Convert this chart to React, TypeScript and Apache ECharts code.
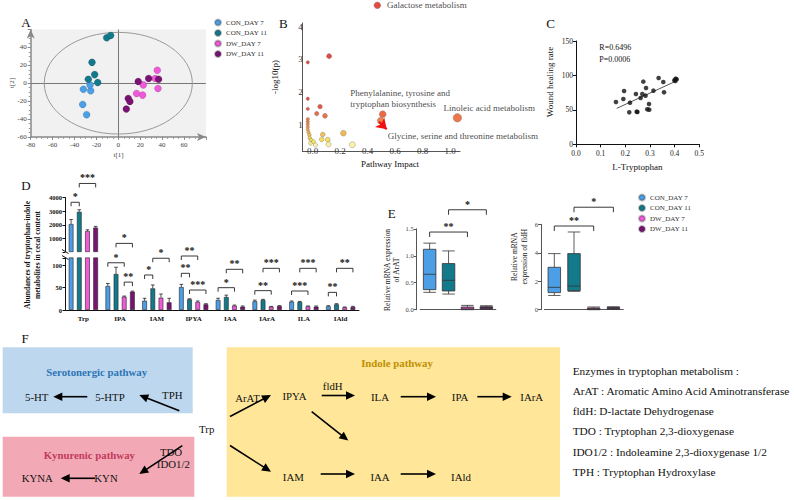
import React, { useEffect, useRef } from "react";
import * as echarts from "echarts";

const SERIF = "Liberation Serif";

// Experimental groups shared by panels A, D and E
const GROUPS = ["CON_DAY 7", "CON_DAY 11", "DW_DAY 7", "DW_DAY 11"];
const GROUP_COLORS = ["#4c9fe6", "#137a8c", "#ef5ad8", "#7a1373"];

// A: PCA scores [t1, t2]
const PCA_CON_DAY7 = [[-31.9, -6.7], [-25.2, -8.5], [-25.8, -1.9], [-32.5, -23.7], [-28.9, -35.2]];
const PCA_CON_DAY11 = [[-10.6, 50.7], [-7, 53.3], [-24, 23.3], [-21.6, 9.6], [-27.4, 4.4], [-18.8, 0.7]];
const PCA_DW_DAY7 = [[35.6, 14.4], [33.7, 5.2], [22.8, -1.9], [16.7, -11.5], [22.2, -13.3], [36.2, -5.9]];
const PCA_DW_DAY11 = [[18.2, 1.9], [27.7, 5.2], [36.8, 4.4], [9.1, -17], [10.6, -20.4], [7.3, -28.9]];
// Hotelling ellipse: centre t1, centre t2, radius t1, radius t2
const PCA_ELLIPSE = [0, 0, 67.6, 56.8];

// B: pathway impact vs -log10(p)
const PATHWAYS: [number, number][] = [
  [0.47, 4.65],
  [0.119, 3.1],
  [-0.036, 2.91],
  [-0.036, 1.8],
  [-0.036, 1.49],
  [0.053, 1.56],
  [0.029, 1.35],
  [0.089, 1.28],
  [0.509, 1.33],
  [0.494, 1.13],
  [1.052, 1.22],
  [0.223, 0.75],
  [0.073, 0.71],
  [0.065, 0.56],
  [0.109, 0.55],
  [0.115, 0.41],
  [0.288, 0.4],
  [-0.036, 1.18],
  [-0.036, 1.1],
  [-0.036, 1.02],
  [-0.036, 0.94],
  [-0.036, 0.86],
  [-0.031, 0.78],
  [-0.024, 0.7],
  [-0.022, 0.61],
  [-0.012, 0.54],
  [0.005, 0.49],
  [-0.017, 0.44],
  [0.02, 0.39],
];
const PATHWAY_LABELS: [number, string][] = [
  [0, "Galactose metabolism"],
  [8, "Phenylalanine, tyrosine and\ntryptophan biosynthesis"],
  [9, "Glycine, serine and threonine metabolism"],
  [10, "Linoleic acid metabolism"],
];
const HIGHLIGHT_ARROW = [[0.482, 1.1], [0.538, 0.87]];
const IMPACT_TICKS = [0, 0.2, 0.4, 0.6, 0.8, 1.0];
const LOGP_TICKS = [1, 2, 3, 4];

// C: L-Tryptophan vs wound healing rate
const TRP_LEVEL = [0.162, 0.192, 0.195, 0.219, 0.216, 0.243, 0.246, 0.249, 0.262, 0.269, 0.273, 0.282, 0.284, 0.289, 0.296, 0.297, 0.314, 0.335, 0.354, 0.357, 0.399, 0.404, 0.408, 0.403];
const HEALING_RATE = [61.4, 65.8, 77.4, 60.5, 46.4, 73.1, 47.4, 46.9, 67.2, 73.1, 91.0, 70.6, 81.8, 50.8, 58.5, 50.3, 77.9, 96.3, 90.5, 75.5, 92.9, 95.3, 94.3, 91.9];
const TREND = [[0.165, 52.2], [0.401, 91.0]];
const CORR_TEXT = ["R=0.6496", "P=0.0006"];

// D: tryptophan-indole metabolites (mean and top of error bar)
const METABOLITES = ["Trp", "IPA", "IAM", "IPYA", "IAA", "IArA", "ILA", "IAld"];
const MEAN_CON_DAY7 = [2050, 53.3, 20.7, 51, 22.2, 19.3, 18.5, 8.1];
const MEAN_CON_DAY11 = [2950, 80, 48, 23.7, 28.9, 22.2, 17.8, 12.6];
const MEAN_DW_DAY7 = [1540, 29.6, 27.4, 17.8, 9.6, 7.4, 8.1, 5.9];
const MEAN_DW_DAY11 = [1790, 40.7, 17, 12.6, 7.4, 8.9, 7.4, 6.7];
const ERR_CON_DAY7 = [2380, 59, 26, 57, 26, 22, 20, 9.6];
const ERR_CON_DAY11 = [3100, 95, 55.6, 25, 33, 23.7, 19, 14];
const ERR_DW_DAY7 = [1630, 31, 35.5, 20, 11, 8, 8.9, 6.7];
const ERR_DW_DAY11 = [1880, 42, 26, 14, 8.9, 9.6, 8.9, 8.1];
// significance brackets: [metabolite, from group, to group, height, stars]
const SIG_TRP: [number, number, number, number, string][] = [
  [0, 0, 1, 3650, "*"],
  [0, 1, 3, 5030, "***"],
];
const SIG_LOW: [number, number, number, number, string][] = [
  [1, 0, 2, 105, "*"], [1, 1, 3, 148, "*"], [1, 2, 3, 62, "**"],
  [2, 0, 1, 77.8, "*"], [2, 1, 3, 115, "*"],
  [3, 0, 2, 120, "**"], [3, 0, 1, 81.5, "**"], [3, 1, 3, 44.4, "***"],
  [4, 0, 2, 49.6, "*"], [4, 1, 3, 90.4, "**"],
  [5, 0, 2, 43, "**"], [5, 1, 3, 92.6, "***"],
  [6, 0, 2, 42.2, "***"], [6, 1, 3, 92.6, "***"],
  [7, 0, 1, 39.2, "**"], [7, 1, 3, 92.6, "**"],
];

// E: relative mRNA expression, box = [min, Q1, median, Q3, max]
const ARAT_BOX = [
  [0.322, 0.372, 0.657, 1.12, 1.234],
  [0.29, 0.347, 0.545, 0.855, 1.09],
  [0.0, 0.006, 0.03, 0.05, 0.08],
  [0.006, 0.019, 0.037, 0.056, 0.074],
];
const FLDH_BOX = [
  [1.0, 1.2, 1.57, 2.98, 3.94],
  [1.29, 1.34, 1.66, 3.94, 5.46],
  [0.0, 0.02, 0.07, 0.12, 0.19],
  [0.02, 0.07, 0.12, 0.16, 0.21],
];
const SIG_ARAT: [number, number, number, string][] = [[0, 2, 1.44, "**"], [1, 3, 1.853, "*"]];
const SIG_FLDH: [number, number, number, string][] = [[0, 2, 5.88, "**"], [1, 3, 7.2, "*"]];

// F: enzyme glossary
const ENZYMES = [
  "Enzymes in tryptophan metabolism :",
  "ArAT : Aromatic Amino Acid Aminotransferase",
  "fldH: D-lactate Dehydrogenase",
  "TDO : Tryptophan 2,3-dioxygenase",
  "IDO1/2 : Indoleamine 2,3-dioxygenase 1/2",
  "TPH : Tryptophan Hydroxylase",
];

const BAR_W = 4.7;
const BAR_STEP = 8.2;

function txt(text: string, x: number, y: number, size: number, o: any = {}) {
  const align = o.align || "center";
  const va = o.va || "middle";
  return {
    type: "text",
    x,
    y,
    rotation: o.rotation || 0,
    silent: true,
    z: 10,
    style: {
      text,
      fill: o.color || "#111",
      fontFamily: SERIF,
      fontSize: size,
      fontWeight: o.weight || "normal",
      align,
      verticalAlign: va,
      lineHeight: o.lh,
    },
  };
}

function arrow(x1: number, y1: number, x2: number, y2: number) {
  const dx = x2 - x1;
  const dy = y2 - y1;
  const len = Math.hypot(dx, dy);
  const ux = dx / len;
  const uy = dy / len;
  const L = 9;
  const W = 4.2;
  const bx = x2 - ux * L;
  const by = y2 - uy * L;
  return [
    { type: "line", silent: true, z: 10, shape: { x1, y1, x2: bx + ux, y2: by + uy }, style: { stroke: "#000", lineWidth: 1.6 } },
    {
      type: "polygon",
      silent: true,
      z: 10,
      shape: { points: [[x2, y2], [bx - uy * W, by + ux * W], [bx + uy * W, by - ux * W]] },
      style: { fill: "#000" },
    },
  ];
}

function bracketPath(x1: number, x2: number, y: number, label: string, tick = 4, size = 10) {
  return {
    type: "group",
    children: [
      {
        type: "polyline",
        shape: { points: [[x1, y + tick], [x1, y], [x2, y], [x2, y + tick]] },
        style: { stroke: "#222", fill: "none", lineWidth: 0.9 },
      },
      {
        type: "text",
        x: (x1 + x2) / 2,
        y: y - 0.5,
        style: {
          text: label,
          fill: "#111",
          fontFamily: SERIF,
          fontSize: size,
          fontWeight: "bold",
          align: "center",
          verticalAlign: "bottom",
        },
      },
    ],
  };
}

function buildOption(): any {
  const pca = [PCA_CON_DAY7, PCA_CON_DAY11, PCA_DW_DAY7, PCA_DW_DAY11];
  const means = [MEAN_CON_DAY7, MEAN_CON_DAY11, MEAN_DW_DAY7, MEAN_DW_DAY11];
  const errs = [ERR_CON_DAY7, ERR_CON_DAY11, ERR_DW_DAY7, ERR_DW_DAY11];
  const series: any[] = [];

  // ---- A: PCA score plot
  GROUPS.forEach((g, i) => {
    series.push({
      type: "scatter",
      name: g,
      xAxisIndex: 0,
      yAxisIndex: 0,
      data: pca[i],
      symbolSize: 7,
      z: 4,
      itemStyle: { color: GROUP_COLORS[i], borderColor: "rgba(0,0,0,0.25)", borderWidth: 0.5, opacity: 1 },
      ...(i === 0
        ? {
            markLine: {
              silent: true,
              symbol: "none",
              z: 1,
              label: { show: false },
              lineStyle: { color: "#777", width: 1, type: "solid" },
              data: [{ xAxis: 0 }, { yAxis: 0 }],
            },
          }
        : {}),
    });
  });
  series.push({
    type: "custom",
    xAxisIndex: 0,
    yAxisIndex: 0,
    silent: true,
    z: 2,
    data: [PCA_ELLIPSE],
    renderItem: (_p: any, api: any) => {
      const c = api.coord([api.value(0), api.value(1)]);
      const s = api.size([api.value(2), api.value(3)]);
      return {
        type: "ellipse",
        shape: { cx: c[0], cy: c[1], rx: s[0], ry: s[1] },
        style: { fill: "none", stroke: "#9a9a9a", lineWidth: 1 },
      };
    },
  });

  // ---- B: pathway bubble plot
  const labelPlacement: Record<number, any> = {
    0: { position: "right", distance: 6 },
    8: { position: [-28.7, -23], lineHeight: 11 },
    9: { position: [10.8, 14.5] },
    10: { position: [-9.5, -10] },
  };
  const bIndex = series.length;
  series.push({
    type: "scatter",
    name: "Pathways",
    xAxisIndex: 1,
    yAxisIndex: 1,
    clip: false,
    z: 4,
    data: PATHWAYS.map((p, i) => {
      const lab = PATHWAY_LABELS.find((l) => l[0] === i);
      if (!lab) return { value: p };
      return {
        value: p,
        label: {
          show: true,
          formatter: lab[1],
          color: "#111",
          fontFamily: SERIF,
          fontSize: 9,
          ...labelPlacement[i],
        },
      };
    }),
    symbolSize: (v: number[]) => 3 + 5.2 * Math.sqrt(Math.max(0, v[0] + 0.04)),
    itemStyle: { borderColor: "#777", borderWidth: 0.5 },
    markLine: {
      silent: true,
      symbol: ["none", "arrow"],
      symbolSize: 10,
      label: { show: false },
      lineStyle: { color: "#f01010", width: 2.2, type: "solid" },
      itemStyle: { color: "#f01010" },
      data: [[{ coord: HIGHLIGHT_ARROW[0] }, { coord: HIGHLIGHT_ARROW[1] }]],
    },
  });

  // ---- C: correlation scatter
  series.push({
    type: "scatter",
    xAxisIndex: 2,
    yAxisIndex: 2,
    data: TRP_LEVEL.map((x, i) => [x, HEALING_RATE[i]]),
    symbolSize: 4.6,
    itemStyle: { color: "#111" },
    z: 4,
  });
  series.push({
    type: "line",
    xAxisIndex: 2,
    yAxisIndex: 2,
    data: TREND,
    symbol: "none",
    itemStyle: { color: "#555" },
    lineStyle: { color: "#555", width: 1 },
    z: 3,
  });

  // ---- D: bars, lower (broken) segment and upper segment
  GROUPS.forEach((g, i) => {
    series.push({
      type: "bar",
      name: g,
      xAxisIndex: 3,
      yAxisIndex: 3,
      data: means[i],
      barWidth: BAR_W,
      barGap: "74%",
      clip: true,
      itemStyle: { color: GROUP_COLORS[i], borderColor: "#222", borderWidth: 0.6 },
    });
  });
  GROUPS.forEach((g, i) => {
    series.push({
      type: "bar",
      name: g,
      xAxisIndex: 4,
      yAxisIndex: 4,
      data: means[i].map((v, c) => (c === 0 ? v : "-")),
      barWidth: BAR_W,
      barGap: "74%",
      clip: true,
      itemStyle: { color: GROUP_COLORS[i], borderColor: "#222", borderWidth: 0.6 },
    });
  });
  const errLow: number[][] = [];
  const errHigh: number[][] = [];
  GROUPS.forEach((_g, s) => {
    METABOLITES.forEach((_m, c) => {
      const row = [c, s, means[s][c], errs[s][c]];
      if (c === 0) errHigh.push(row);
      else errLow.push(row);
    });
  });
  const errRender = (_p: any, api: any) => {
    const cat = api.value(0);
    const s = api.value(1);
    const base = api.coord([cat, api.value(2)]);
    const top = api.coord([cat, api.value(3)]);
    const x = base[0] + (s - 1.5) * BAR_STEP;
    return {
      type: "group",
      children: [
        { type: "line", shape: { x1: x, y1: base[1], x2: x, y2: top[1] }, style: { stroke: "#222", lineWidth: 0.8 } },
        { type: "line", shape: { x1: x - 1.8, y1: top[1], x2: x + 1.8, y2: top[1] }, style: { stroke: "#222", lineWidth: 0.8 } },
      ],
    };
  };
  series.push({ type: "custom", xAxisIndex: 3, yAxisIndex: 3, data: errLow, renderItem: errRender, silent: true, z: 5 });
  series.push({ type: "custom", xAxisIndex: 4, yAxisIndex: 4, data: errHigh, renderItem: errRender, silent: true, z: 5 });
  const sigRender = (list: [number, number, number, number, string][]) => (p: any, api: any) => {
    const item = list[p.dataIndex];
    const pt = api.coord([api.value(0), api.value(3)]);
    const x1 = pt[0] + (api.value(1) - 1.5) * BAR_STEP;
    const x2 = pt[0] + (api.value(2) - 1.5) * BAR_STEP;
    return bracketPath(x1, x2, pt[1], item[4], 4, 10);
  };
  series.push({
    type: "custom", xAxisIndex: 3, yAxisIndex: 3, silent: true, z: 6,
    data: SIG_LOW.map((r) => r.slice(0, 4)), renderItem: sigRender(SIG_LOW),
  });
  series.push({
    type: "custom", xAxisIndex: 4, yAxisIndex: 4, silent: true, z: 6,
    data: SIG_TRP.map((r) => r.slice(0, 4)), renderItem: sigRender(SIG_TRP),
  });

  // ---- E: box plots
  const boxItems = (rows: number[][]) =>
    rows.map((r, i) => ({ value: r, itemStyle: { color: GROUP_COLORS[i], borderColor: "#333", borderWidth: 0.8 } }));
  series.push({ type: "boxplot", xAxisIndex: 5, yAxisIndex: 5, boxWidth: [12.5, 12.5], data: boxItems(ARAT_BOX) });
  series.push({ type: "boxplot", xAxisIndex: 6, yAxisIndex: 6, boxWidth: [12.5, 12.5], data: boxItems(FLDH_BOX) });
  const boxSig = (list: [number, number, number, string][]) => (p: any, api: any) => {
    const a = api.coord([api.value(0), api.value(2)]);
    const b = api.coord([api.value(1), api.value(2)]);
    return bracketPath(a[0], b[0], a[1], list[p.dataIndex][3], 5, 10);
  };
  series.push({
    type: "custom", xAxisIndex: 5, yAxisIndex: 5, silent: true, z: 6,
    data: SIG_ARAT.map((r) => r.slice(0, 3)), renderItem: boxSig(SIG_ARAT),
  });
  series.push({
    type: "custom", xAxisIndex: 6, yAxisIndex: 6, silent: true, z: 6,
    data: SIG_FLDH.map((r) => r.slice(0, 3)), renderItem: boxSig(SIG_FLDH),
  });

  const isMultiple = (v: number, step: number) => Math.abs(v / step - Math.round(v / step)) < 1e-6;
  const axisText = (size: number, color = "#333", weight = "normal") => ({
    fontFamily: SERIF,
    fontSize: size,
    color,
    fontWeight: weight,
  });

  const grid = [
    { left: 30.7, top: 29.5, width: 175.2, height: 107.4, show: true, backgroundColor: "#f1f1f1", borderWidth: 0 },
    { left: 302.7, top: 23, width: 157.3, height: 128.7 },
    { left: 576, top: 41, width: 123.3, height: 103.3 },
    { left: 65, top: 257.8, width: 294, height: 52.2 },
    { left: 65, top: 197.5, width: 294, height: 54.5 },
    { left: 420.2, top: 228.8, width: 75.6, height: 80.9 },
    { left: 544.45, top: 224.3, width: 78.8, height: 85.4 },
  ];

  const xAxis = [
    {
      type: "value", gridIndex: 0, min: -80, max: 80, interval: 20,
      axisLine: { lineStyle: { color: "#888", width: 1.5 }, symbol: ["none", "arrow"], symbolSize: [6, 9], onZero: false },
      axisTick: { length: 3, lineStyle: { color: "#888" } },
      minorTick: { show: true, splitNumber: 4, length: 2, lineStyle: { color: "#999" } },
      splitLine: { show: false },
      axisLabel: { ...axisText(7, "#444"), margin: 5, formatter: (v: number) => (v >= 80 ? "" : String(v)) },
    },
    {
      type: "value", gridIndex: 1, min: -0.073, max: 1.071,
      axisLine: { lineStyle: { color: "#555", width: 1 }, onZero: false },
      axisTick: { show: false },
      splitLine: { show: false },
      axisLabel: {
        ...axisText(9, "#333"), margin: -5, customValues: IMPACT_TICKS,
        formatter: (v: number) => v.toFixed(1),
      },
    },
    {
      type: "value", gridIndex: 2, min: 0, max: 0.5, interval: 0.1,
      axisLine: { lineStyle: { color: "#111", width: 1 }, onZero: false },
      axisTick: { length: 3, lineStyle: { color: "#111" } },
      splitLine: { show: false },
      axisLabel: {
        ...axisText(7.5, "#222"), margin: 5,
        formatter: (v: number) => `{t|${v.toFixed(1)}}`,
        rich: { t: { color: "#222", fontFamily: SERIF, fontSize: 7.5 } },
      },
    },
    {
      type: "category", gridIndex: 3, data: METABOLITES,
      axisLine: { lineStyle: { color: "#111", width: 1 } },
      axisTick: { alignWithLabel: true, length: 2.5, lineStyle: { color: "#111" } },
      axisLabel: { ...axisText(7, "#111", "bold"), margin: 5, interval: 0 },
    },
    { type: "category", gridIndex: 4, data: METABOLITES, show: false },
    {
      type: "category", gridIndex: 5, data: GROUPS,
      axisLine: { lineStyle: { color: "#555", width: 1 } },
      axisTick: { alignWithLabel: true, length: 3, lineStyle: { color: "#555" } },
      axisLabel: { show: false },
    },
    {
      type: "category", gridIndex: 6, data: GROUPS,
      axisLine: { lineStyle: { color: "#555", width: 1 } },
      axisTick: { alignWithLabel: true, length: 3, lineStyle: { color: "#555" } },
      axisLabel: { show: false },
    },
  ];

  const yAxis = [
    {
      type: "value", gridIndex: 0, min: -60, max: 60, interval: 20,
      axisLine: { show: true, lineStyle: { color: "#888", width: 1.5 }, symbol: ["none", "arrow"], symbolSize: [6, 9], onZero: false },
      axisTick: { show: true, length: 3, lineStyle: { color: "#888" } },
      minorTick: { show: true, splitNumber: 4, length: 2, lineStyle: { color: "#999" } },
      splitLine: { show: false },
      axisLabel: { ...axisText(7, "#444"), margin: 4, formatter: (v: number) => (v >= 60 ? "" : String(v)) },
    },
    {
      type: "value", gridIndex: 1, min: 0.186, max: 4.11,
      axisLine: { show: true, lineStyle: { color: "#555", width: 1 }, onZero: false },
      axisTick: { show: false },
      splitLine: { show: false },
      axisLabel: {
        ...axisText(9, "#333"), margin: 0, customValues: LOGP_TICKS,
        formatter: (v: number) => String(Math.round(v)),
      },
    },
    {
      type: "value", gridIndex: 2, min: 0, max: 150, interval: 50,
      axisLine: { show: true, lineStyle: { color: "#111", width: 1 }, onZero: false },
      axisTick: { show: true, length: 3, lineStyle: { color: "#111" } },
      splitLine: { show: false },
      axisLabel: { ...axisText(7.5, "#222"), margin: 3 },
    },
    {
      type: "value", gridIndex: 3, min: 0, max: 116, interval: 50,
      axisLine: { show: true, lineStyle: { color: "#111", width: 1 } },
      axisTick: { show: true, length: 2.5, lineStyle: { color: "#111" } },
      splitLine: { show: false },
      axisLabel: {
        ...axisText(6.5, "#111", "bold"), margin: 3,
        formatter: (v: number) => (isMultiple(v, 50) ? String(v) : ""),
      },
    },
    {
      type: "value", gridIndex: 4, min: 0, max: 4000, interval: 1000,
      axisLine: { show: true, lineStyle: { color: "#111", width: 1 } },
      axisTick: { show: true, length: 2.5, lineStyle: { color: "#111" } },
      splitLine: { show: false },
      axisLabel: { ...axisText(6.5, "#111", "bold"), margin: 3, formatter: (v: number) => (v === 0 ? "" : String(v)) },
    },
    {
      type: "value", gridIndex: 5, min: 0, max: 1.5, interval: 0.5, offset: 3.5,
      axisLine: { show: true, lineStyle: { color: "#555", width: 1 } },
      axisTick: { show: true, length: 3, lineStyle: { color: "#555" } },
      splitLine: { show: false },
      axisLabel: { ...axisText(6.5, "#444"), margin: 3, formatter: (v: number) => v.toFixed(1) },
    },
    {
      type: "value", gridIndex: 6, min: 0, max: 6, interval: 2, offset: 3.45,
      axisLine: { show: true, lineStyle: { color: "#555", width: 1 } },
      axisTick: { show: true, length: 3, lineStyle: { color: "#555" } },
      splitLine: { show: false },
      axisLabel: { ...axisText(6.5, "#444"), margin: 3 },
    },
  ];

  const legendBase = {
    data: GROUPS,
    orient: "vertical",
    icon: "circle",
    itemWidth: 6,
    itemHeight: 6,
    itemGap: 2.5,
    padding: 0,
    selectedMode: false,
    textStyle: { fontFamily: SERIF, fontSize: 7, color: "#333" },
  };

  const graphic: any[] = [
    // panel letters
    txt("A", 26, 22.7, 13),
    txt("B", 283.3, 23.3, 13),
    txt("C", 550.7, 23.3, 13),
    txt("D", 26, 185, 13),
    txt("E", 391.7, 213.3, 13),
    txt("F", 25, 338.3, 13),
    // A axis titles
    txt("t[1]", 118.5, 155, 7, { color: "#444" }),
    txt("t[2]", 12, 83, 7, { color: "#444", rotation: Math.PI / 2 }),
    // B axis titles
    txt("-log10(p)", 275, 77, 9, { rotation: Math.PI / 2 }),
    txt("Pathway Impact", 390, 163.5, 9),
    // C axis titles and statistics
    txt("L-Tryptophan", 637.3, 166.7, 9),
    txt("Wound healing rate", 550, 82, 9, { rotation: Math.PI / 2 }),
    txt(CORR_TEXT[0], 599.3, 47.7, 8, { align: "left" }),
    txt(CORR_TEXT[1], 599.3, 59, 8, { align: "left" }),
    // D axis title and break marks
    txt("Abundances of tryptophan-indole\nmetabolites in cecal content", 32.5, 255, 7.5, {
      weight: "bold", rotation: Math.PI / 2, lh: 9.5,
    }),
    { type: "line", silent: true, shape: { x1: 62, y1: 249.5, x2: 68.5, y2: 253.5 }, style: { stroke: "#111", lineWidth: 1 } },
    { type: "line", silent: true, shape: { x1: 62, y1: 255.5, x2: 68.5, y2: 259.5 }, style: { stroke: "#111", lineWidth: 1 } },
    // E axis titles
    txt("Relative mRNA expression\nof ArAT", 392, 270, 7.5, { rotation: Math.PI / 2, lh: 9.4, color: "#222" }),
    txt("Relative mRNA\nexpression of fldH", 519, 256.7, 7.5, { rotation: Math.PI / 2, lh: 10, color: "#222" }),
    // F pathway boxes
    { type: "rect", silent: true, z: 1, shape: { x: 2.7, y: 347.3, width: 190, height: 66 }, style: { fill: "#bdd7ee" } },
    { type: "rect", silent: true, z: 1, shape: { x: 2.7, y: 436.7, width: 191.6, height: 60 }, style: { fill: "#f2a9b5" } },
    { type: "rect", silent: true, z: 1, shape: { x: 226.7, y: 347.3, width: 333.3, height: 149.4 }, style: { fill: "#ffe699" } },
    txt("Serotonergic pathway", 96.7, 372.3, 10.8, { weight: "bold", color: "#2e75b6" }),
    txt("Kynurenic pathway", 89.3, 455, 10.8, { weight: "bold", color: "#c23b5e" }),
    txt("Indole pathway", 397, 363.3, 10.8, { weight: "bold", color: "#bf9000" }),
    txt("5-HT", 36.7, 396.7, 10.8),
    txt("5-HTP", 110, 396.7, 10.8),
    txt("TPH", 172.3, 395, 10.8),
    txt("Trp", 206.7, 429.3, 10.8),
    txt("KYNA", 37.3, 478.3, 10.8),
    txt("KYN", 106, 478.3, 10.8),
    txt("TDO", 171, 451.7, 10.8),
    txt("IDO1/2", 173.3, 464, 10.8),
    txt("ArAT", 247.5, 398.3, 10.8),
    txt("IPYA", 294.5, 396, 10.8),
    txt("fldH", 332.7, 386, 10.8),
    txt("ILA", 380, 396.7, 10.8),
    txt("IPA", 460, 396.7, 10.8),
    txt("IArA", 531.7, 396.7, 10.8),
    txt("IAM", 293.3, 477.3, 10.8),
    txt("IAA", 380, 477.3, 10.8),
    txt("IAld", 461, 477.3, 10.8),
    ...arrow(87.3, 396.7, 53.3, 396.7),
    ...arrow(179.3, 410.7, 139.3, 395),
    ...arrow(95, 478.3, 60.7, 478.3),
    ...arrow(182.3, 445.7, 139.3, 474),
    ...arrow(230, 416.5, 271, 395),
    ...arrow(321.7, 395.5, 355, 395.5),
    ...arrow(400.7, 396.7, 436, 396.7),
    ...arrow(477.3, 396.7, 511.7, 396.7),
    ...arrow(311.7, 411.7, 348.3, 440.5),
    ...arrow(230, 445.5, 271, 471.7),
    ...arrow(320.7, 474, 355, 474),
    ...arrow(400.7, 474, 436, 474),
    ...ENZYMES.map((t, i) => txt(t, 572.7, [370.7, 391, 410.7, 431, 451.7, 472.3][i], 11.3, { align: "left" })),
  ];

  return {
    animation: false,
    backgroundColor: "#ffffff",
    textStyle: { fontFamily: SERIF },
    grid,
    xAxis,
    yAxis,
    legend: [
      { ...legendBase, left: 214, top: 18.5 },
      { ...legendBase, left: 638, top: 193.5 },
    ],
    visualMap: {
      type: "continuous",
      show: false,
      seriesIndex: bIndex,
      dimension: 1,
      min: 0.3,
      max: 1.7,
      inRange: { color: ["#fffbe6", "#f6e23a", "#f2b12c", "#ef8a22", "#ec641c", "#e84a18", "#e22e14", "#dc1c10"] },
    },
    series,
    graphic,
  };
}

export default function App() {
  const ref = useRef<HTMLDivElement>(null);
  useEffect(() => {
    if (!ref.current) return;
    const chart = echarts.init(ref.current, null, { renderer: "svg" });
    chart.setOption(buildOption());
    return () => chart.dispose();
  }, []);
  return (
    <div
      ref={ref}
      style={{ position: "fixed", left: 0, top: 0, width: 794, height: 500, background: "#fff" }}
    />
  );
}
